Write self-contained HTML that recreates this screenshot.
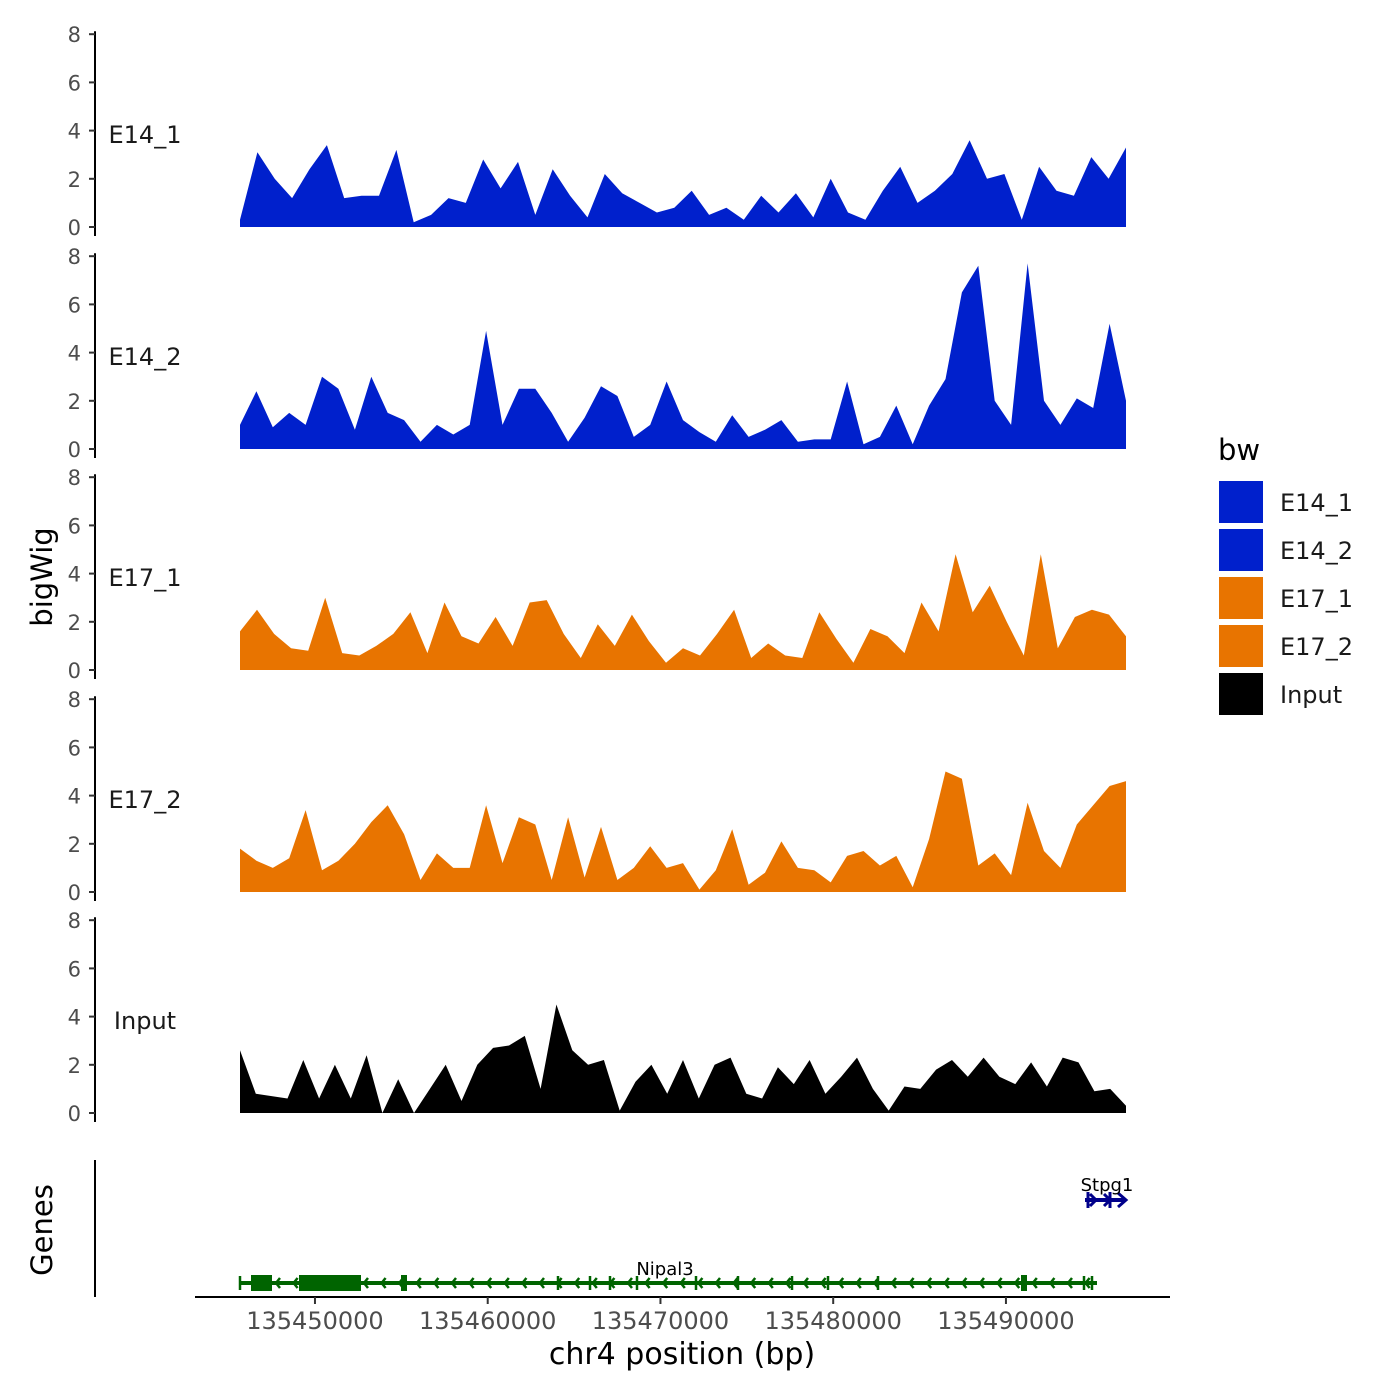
<!DOCTYPE html>
<html><head><meta charset="utf-8"><style>
body{margin:0;background:#fff;}
svg{display:block;font-family:"DejaVu Sans","Liberation Sans",sans-serif;}
</style></head><body>
<svg id="chart" width="1400" height="1400" viewBox="0 0 1400 1400" xmlns="http://www.w3.org/2000/svg">
<g id="tracks"></g>
<g id="genes">
  <line x1="95" y1="1160" x2="95" y2="1297" stroke="#000" stroke-width="2"/>
  <text transform="translate(52,1230) rotate(-90)" text-anchor="middle" font-size="29">Genes</text>
  <line x1="240" y1="1283" x2="1097" y2="1283" stroke="#006400" stroke-width="4"/>
  <rect x="251" y="1275" width="21" height="16" fill="#006400"/>
  <rect x="299" y="1275" width="62" height="16" fill="#006400"/>
  <rect x="401" y="1275" width="6" height="16" fill="#006400"/>
  <rect x="1021" y="1275" width="6" height="16" fill="#006400"/>
  <g id="nipalArrows"></g>
  <text x="665" y="1275" text-anchor="middle" font-size="18">Nipal3</text>
  <line x1="1085" y1="1200" x2="1126" y2="1200" stroke="#00008b" stroke-width="4"/>
  <path d="M1090 1194 L1096 1200 L1090 1206 M1104 1194 L1110 1200 L1104 1206 M1118 1193 L1126 1200 L1118 1207 M1088 1192 V1208 M1110 1192 V1208" stroke="#00008b" stroke-width="3" fill="none"/>
  <text x="1107" y="1191" text-anchor="middle" font-size="18">Stpg1</text>
</g>
<g id="xaxis">
  <line x1="195" y1="1297" x2="1170" y2="1297" stroke="#000" stroke-width="2"/>
</g>
<text x="682" y="1364" text-anchor="middle" font-size="30">chr4 position (bp)</text>
<text transform="translate(52,577) rotate(-90)" text-anchor="middle" font-size="29">bigWig</text>
<g id="legend">
  <text x="1218" y="460" font-size="29">bw</text>
</g>
<script>
const trackNames = ["E14_1","E14_2","E17_1","E17_2","Input"];
const trackColors = ["#0020cc","#0020cc","#e87400","#e87400","#000000"];
const yTicks = [0,2,4,6,8];
const xTicks = [135450000,135460000,135470000,135480000,135490000];
const xStart = 135445660, xEnd = 135496950;
const e14_1 = [0.3,3.1,2.0,1.2,2.4,3.4,1.2,1.3,1.3,3.2,0.2,0.5,1.2,1.0,2.8,1.6,2.7,0.5,2.4,1.3,0.4,2.2,1.4,1.0,0.6,0.8,1.5,0.5,0.8,0.3,1.3,0.6,1.4,0.4,2.0,0.6,0.3,1.5,2.5,1.0,1.5,2.2,3.6,2.0,2.2,0.3,2.5,1.5,1.3,2.9,2.0,3.3];
const e14_2 = [1.0,2.4,0.9,1.5,1.0,3.0,2.5,0.8,3.0,1.5,1.2,0.3,1.0,0.6,1.0,4.9,1.0,2.5,2.5,1.5,0.3,1.3,2.6,2.2,0.5,1.0,2.8,1.2,0.7,0.3,1.4,0.5,0.8,1.2,0.3,0.4,0.4,2.8,0.2,0.5,1.8,0.2,1.8,2.9,6.5,7.6,2.0,1.0,7.7,2.0,1.0,2.1,1.7,5.2,2.0];
const e17_1 = [1.6,2.5,1.5,0.9,0.8,3.0,0.7,0.6,1.0,1.5,2.4,0.7,2.8,1.4,1.1,2.2,1.0,2.8,2.9,1.5,0.5,1.9,1.0,2.3,1.2,0.3,0.9,0.6,1.5,2.5,0.5,1.1,0.6,0.5,2.4,1.3,0.3,1.7,1.4,0.7,2.8,1.6,4.8,2.4,3.5,2.0,0.6,4.8,0.9,2.2,2.5,2.3,1.4];
const e17_2 = [1.8,1.3,1.0,1.4,3.4,0.9,1.3,2.0,2.9,3.6,2.4,0.5,1.6,1.0,1.0,3.6,1.2,3.1,2.8,0.5,3.1,0.6,2.7,0.5,1.0,1.9,1.0,1.2,0.1,0.9,2.6,0.3,0.8,2.1,1.0,0.9,0.4,1.5,1.7,1.1,1.5,0.2,2.2,5.0,4.7,1.1,1.6,0.7,3.7,1.7,1.0,2.8,3.6,4.4,4.6];
const inputTrack = [2.6,0.8,0.7,0.6,2.2,0.6,2.0,0.6,2.4,0.0,1.4,0.0,1.0,2.0,0.5,2.0,2.7,2.8,3.2,1.0,4.5,2.6,2.0,2.2,0.1,1.3,2.0,0.8,2.2,0.6,2.0,2.3,0.8,0.6,1.9,1.2,2.2,0.8,1.5,2.3,1.0,0.1,1.1,1.0,1.8,2.2,1.5,2.3,1.5,1.2,2.1,1.1,2.3,2.1,0.9,1.0,0.3];
const series = [e14_1,e14_2,e17_1,e17_2,inputTrack];

const NS="http://www.w3.org/2000/svg";
function mk(tag,attrs,parent){const e=document.createElementNS(NS,tag);for(const k in attrs)e.setAttribute(k,attrs[k]);parent.appendChild(e);return e;}
function xScale(bp){return 240+(bp-xStart)/(xEnd-xStart)*886;}
const baseY=[227,449,670,892,1113];
const unit=24.1;
function yScale(i,v){return baseY[i]-v*unit;}
const tracks=document.getElementById('tracks');
series.forEach((vals,i)=>{
  const g=mk('g',{},tracks);
  
  
  const ax=mk('line',{x1:95,y1:yScale(i,8)-3,x2:95,y2:baseY[i]+9,stroke:'#000','stroke-width':2},g);
  
  
  yTicks.forEach(t=>{
    const y=yScale(i,t);
    const tk=mk('line',{x1:89,y1:y,x2:95,y2:y,stroke:'#333','stroke-width':2},g);
    
    
    const tl=mk('text',{x:81,y:y+8,'text-anchor':'end','font-size':21,fill:'#4d4d4d'},g);
    tl.textContent=t;
    
    
  });
  const lab=mk('text',{x:145,y:baseY[i]-84,'text-anchor':'middle','font-size':24,fill:'#1a1a1a'},g);
  lab.textContent=trackNames[i];
  
  
  const n=vals.length;
  let d='M240 '+baseY[i];
  vals.forEach((v,j)=>{const bp=xStart+(xEnd-xStart)*j/(n-1);d+=' L'+xScale(bp).toFixed(1)+' '+yScale(i,v).toFixed(1);});
  d+=' L1126 '+baseY[i]+' Z';
  const p=mk('path',{d:d,fill:trackColors[i]},g);
  
  
});
const xa=document.getElementById('xaxis');
xTicks.forEach(t=>{
  const x=xScale(t);
  const tk=mk('line',{x1:x,y1:1297,x2:x,y2:1304,stroke:'#333','stroke-width':2},xa);
  
  
  const tl=mk('text',{x:x,y:1329,'text-anchor':'middle','font-size':24,fill:'#4d4d4d'},xa);
  tl.textContent=t;
  
  
});
const arr=document.getElementById('nipalArrows');
let ad='';
for(let x=276;x<1095;x+=17.6){ if(x>299&&x<361)continue; ad+='M'+(x+4)+' 1278 L'+x+' 1283 L'+(x+4)+' 1288 ';}
[240,404,558,590,610,637,696,738,792,828,878,1024,1084,1092].forEach(x=>{ad+='M'+x+' 1276 V1290 ';});
const ap=mk('path',{d:ad,stroke:'#006400','stroke-width':2.5,fill:'none'},arr);


const lg=document.getElementById('legend');
const lc=["#0020cc","#0020cc","#e87400","#e87400","#000000"];
trackNames.forEach((nm,i)=>{
  const y=481+i*48;
  const r=mk('rect',{x:1219,y:y,width:44,height:42,fill:lc[i]},lg);
  
  
  const t=mk('text',{x:1280,y:y+30,'font-size':24,fill:'#1a1a1a'},lg);
  t.textContent=nm;
  
  
});
</script>
</svg>
</body></html>
